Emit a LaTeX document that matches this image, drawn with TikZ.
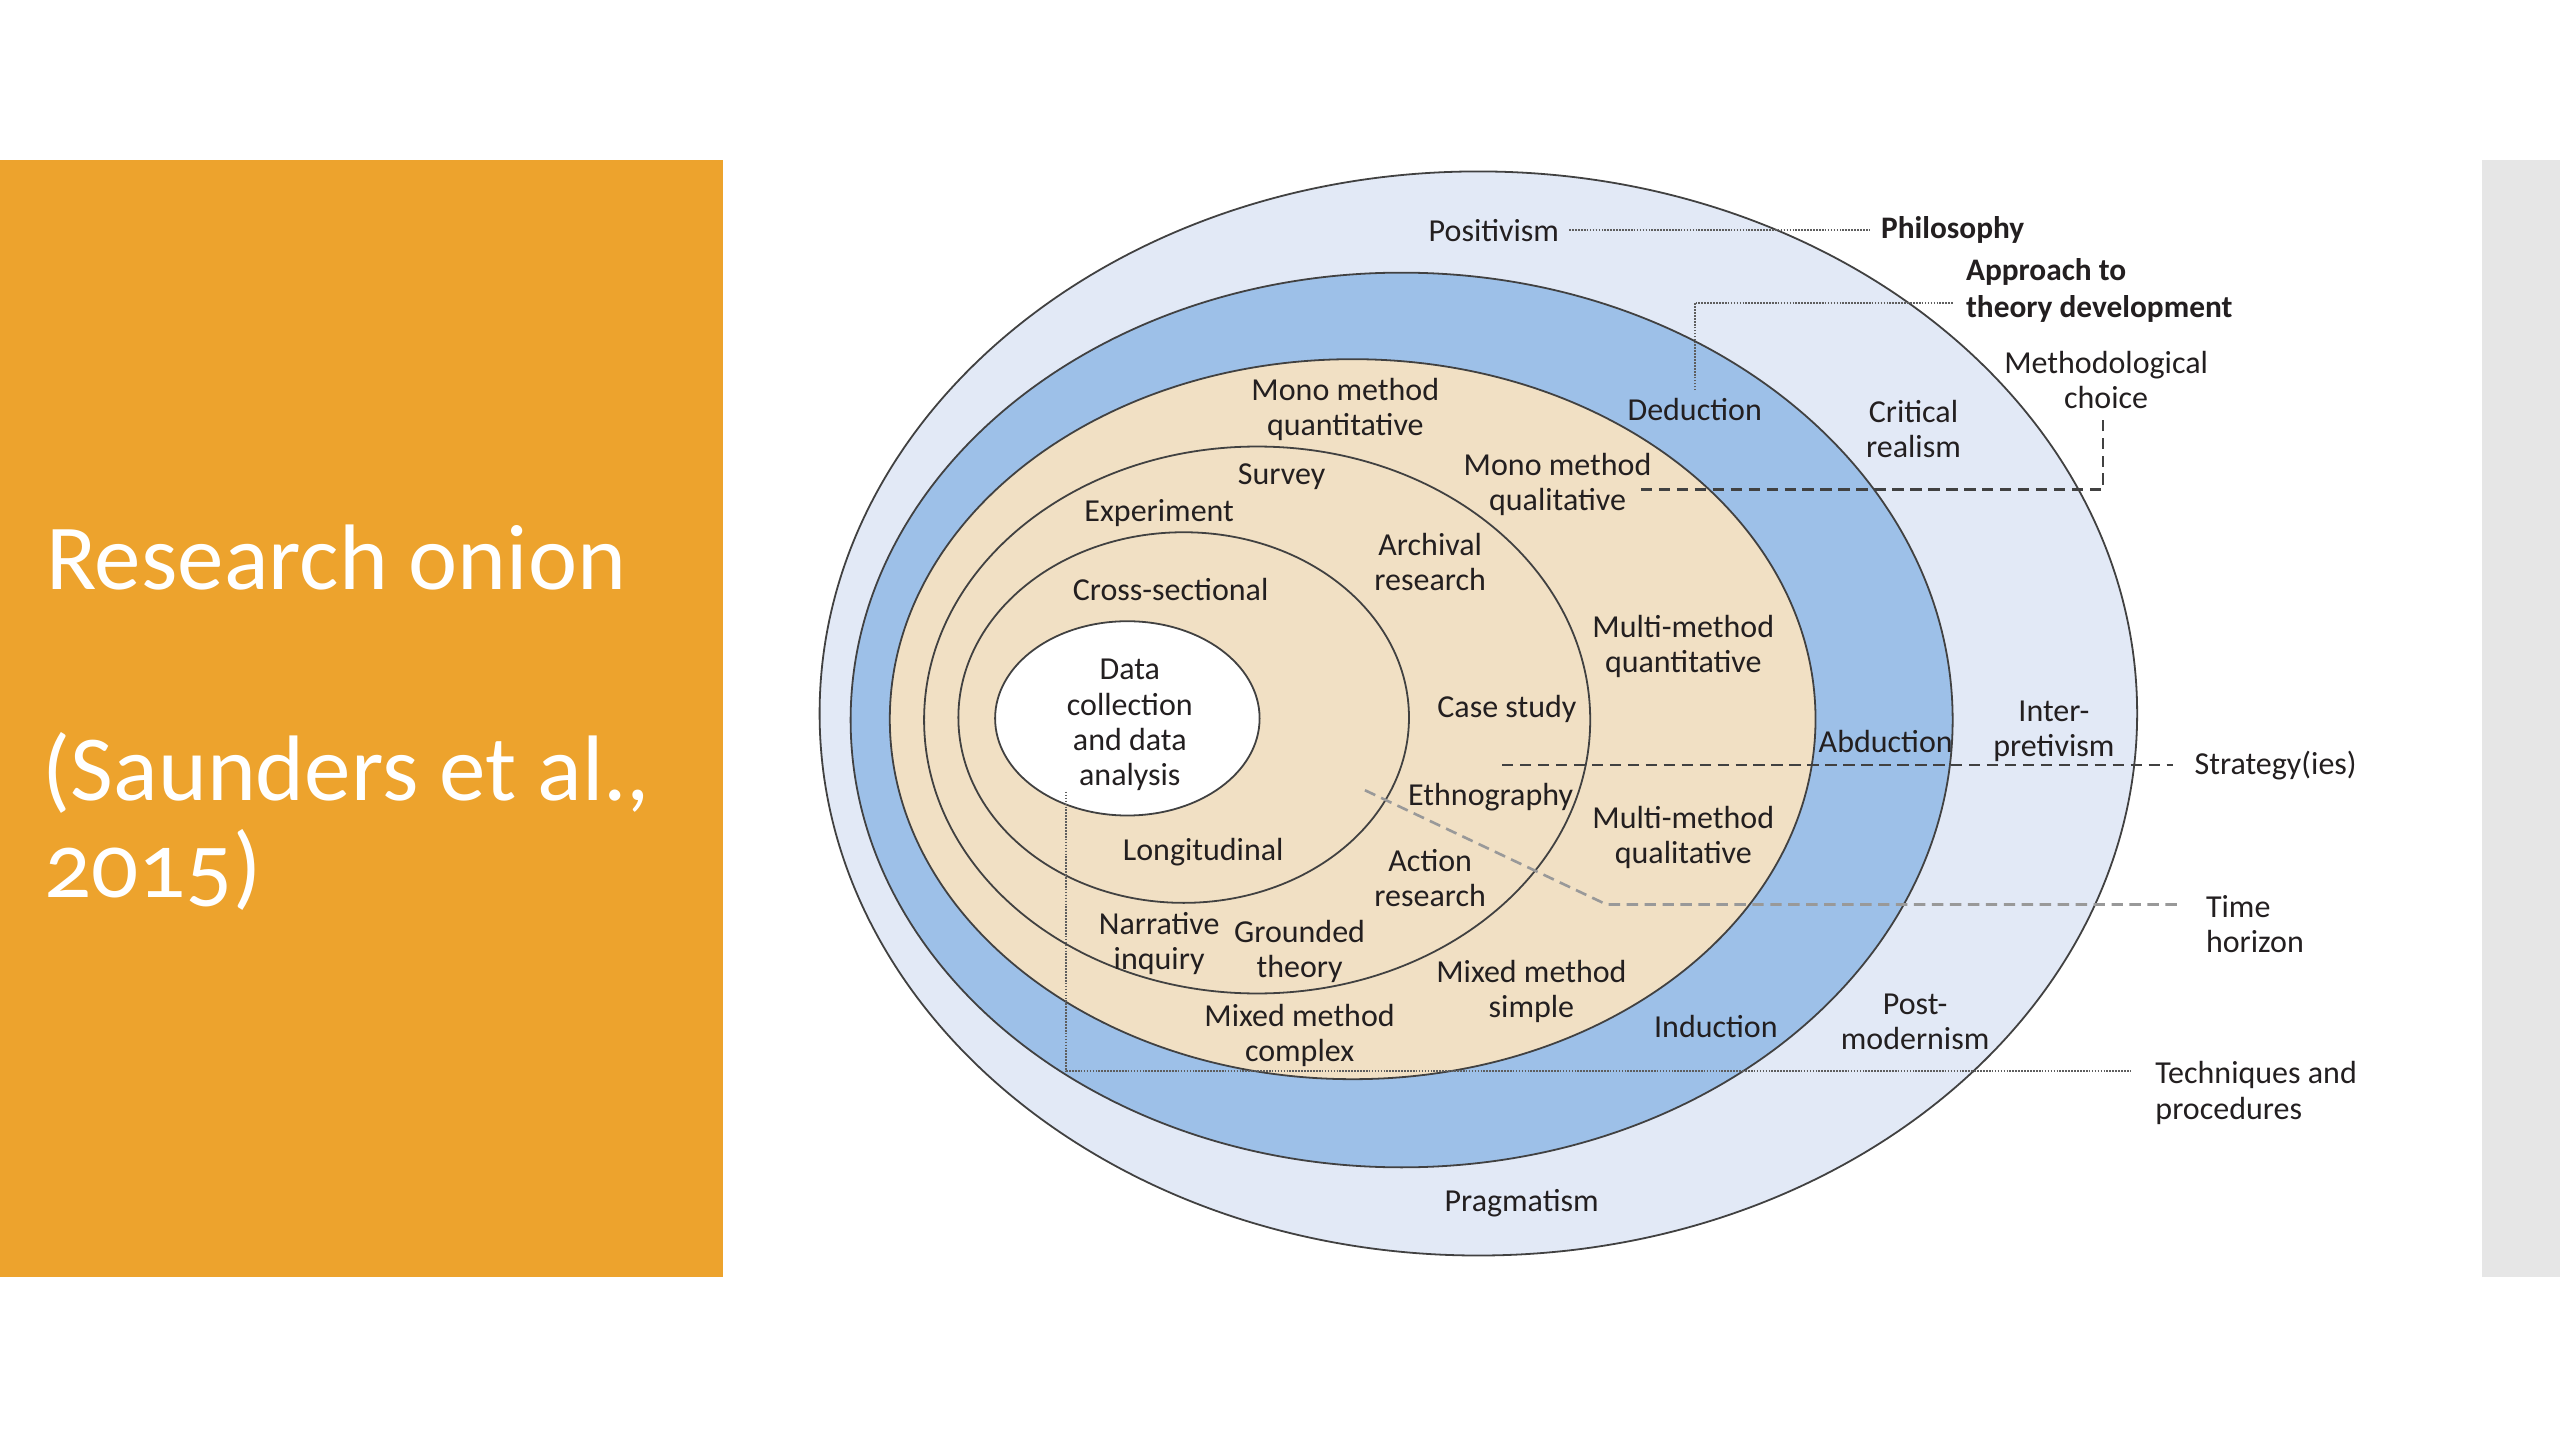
\documentclass[tikz,border=0pt]{standalone}
\usepackage{fontspec}
\setmainfont{Carlito}
\newfontfamily\titlefont[Numbers=OldStyle]{Carlito}
\definecolor{orangebg}{RGB}{237,163,45}
\definecolor{graystrip}{RGB}{230,230,230}
\definecolor{ringphil}{RGB}{226,233,246}
\definecolor{ringappr}{RGB}{157,192,232}
\definecolor{ringmeth}{RGB}{241,224,196}
\definecolor{inktext}{RGB}{35,31,32}
\definecolor{inkline}{RGB}{65,65,65}
\begin{document}
\begin{tikzpicture}[x=1pt,y=-1pt,
  lab/.style={font=\fontsize{19.6}{21.5}\selectfont, text=inktext, align=center, inner sep=0pt},
  boldlab/.style={font=\fontsize{19.2}{23}\selectfont\bfseries, text=inktext, align=left, inner sep=0pt},
  sidelab/.style={font=\fontsize{19.6}{22}\selectfont, text=inktext, align=left, inner sep=0pt},
  ring/.style={draw=inkline, line width=1.1pt},
  dotline/.style={draw=inkline!85, line width=1.1pt, dash pattern=on 1pt off 0.8pt},
  dashline/.style={draw=inkline, line width=1.6pt, dash pattern=on 7pt off 4pt},
  lightdash/.style={draw=black!40, line width=1.6pt, dash pattern=on 7pt off 4pt},
  titletext/.style={font=\titlefont\fontsize{57}{62}\selectfont, text=white, inner sep=0pt, anchor=base west}
]
\useasboundingbox (0,0) rectangle (1568,882);
\fill[white] (0,0) rectangle (1568,882);
% side panels
\fill[orangebg] (0,98) rectangle (443,782);
\fill[graystrip] (1520,98) rectangle (1568,782);
\node[titletext] (t1) at (28,361) {Research onion};
\node[titletext] (t2) at (26,490) {(Saunders et al.,};
\node[titletext] (t3) at (27,550) {2015)};
% onion layers
\fill[ringphil] (905.5,437) ellipse [x radius=403.5pt, y radius=332pt];
\draw[ring] (905.5,437) ellipse [x radius=403.5pt, y radius=332pt];
\fill[ringappr] (858.5,441) ellipse [x radius=337.5pt, y radius=274pt];
\draw[ring] (858.5,441) ellipse [x radius=337.5pt, y radius=274pt];
\fill[ringmeth] (828.5,440.5) ellipse [x radius=283.5pt, y radius=220.5pt];
\draw[ring] (828.5,440.5) ellipse [x radius=283.5pt, y radius=220.5pt];
\draw[ring] (770,441) ellipse [x radius=204pt, y radius=167.5pt];
\draw[ring] (725,439.5) ellipse [x radius=138pt, y radius=113.5pt];
\fill[white] (690.5,440) ellipse [x radius=81pt, y radius=59.5pt];
\draw[ring] (690.5,440) ellipse [x radius=81pt, y radius=59.5pt];
% labels
\node[lab] (positivism) at (915,141) {Positivism};
\node[boldlab, anchor=west] (philosophy) at (1152,141) {Philosophy};
\node[boldlab, anchor=north west] (approach) at (1204,158) {Approach to\\theory development};
\node[lab] (methchoice) at (1290,233) {Methodological\\choice};
\node[lab] (critical) at (1172,263) {Critical\\realism};
\node[lab] (deduction) at (1038,251) {Deduction};
\node[lab] (monoquant) at (824,251) {Mono method\\quantitative};
\node[lab] (monoqual) at (954,297) {Mono method\\qualitative};
\node[lab] (survey) at (785,292) {Survey};
\node[lab] (experiment) at (710,314) {Experiment};
\node[lab] (archival) at (876,344) {Archival\\research};
\node[lab] (cross) at (717,361) {Cross-sectional};
\node[lab] (multiquant) at (1031,396) {Multi-method\\quantitative};
\node[lab] (data) at (692,444) {Data\\collection\\and data\\analysis};
\node[lab] (casestudy) at (923,434) {Case study};
\node[lab] (abduction) at (1155,454) {Abduction};
\node[lab] (inter) at (1258,448) {Inter-\\pretivism};
\node[sidelab, anchor=west] (strategy) at (1344,469) {Strategy(ies)};
\node[lab] (ethno) at (913,488) {Ethnography};
\node[lab] (multiqual) at (1031,513) {Multi-method\\qualitative};
\node[lab] (longi) at (737,522) {Longitudinal};
\node[lab] (action) at (876,538) {Action\\research};
\node[sidelab, anchor=north west] (timeh) at (1351,548) {Time\\horizon};
\node[lab] (narrative) at (710,578) {Narrative\\inquiry};
\node[lab] (grounded) at (796,583) {Grounded\\theory};
\node[lab] (mixsimple) at (938,607) {Mixed method\\simple};
\node[lab] (post) at (1173,626) {Post-\\modernism};
\node[lab] (induction) at (1051,629) {Induction};
\node[lab] (mixcomplex) at (796,634) {Mixed method\\complex};
\node[sidelab, anchor=north west] (tech) at (1320,650) {Techniques and\\procedures};
\node[lab] (pragmatism) at (932,737) {Pragmatism};
% connectors
\coordinate (apA) at (1038,239);
\coordinate (apB) at (1038,185.5);
\coordinate (apC) at (1196,185.5);
\coordinate (mcA) at (1005,300);
\coordinate (mcB) at (1288,300);
\coordinate (mcC) at (1288,256);
\coordinate (stA) at (920,468.5);
\coordinate (stB) at (1331,468.5);
\coordinate (thA) at (836,484);
\coordinate (thB) at (984,554);
\coordinate (thC) at (1337,554);
\coordinate (tpA) at (653,485);
\coordinate (tpB) at (653,656);
\coordinate (tpC) at (1305,656);
\draw[dotline] ([xshift=6pt]positivism.east) -- ([xshift=-7pt]philosophy.west);
\draw[dotline] (apA) -- (apB) -- (apC);
\draw[dashline] (mcA) -- (mcB) -- (mcC);
\draw[dashline] (stA) -- (stB);
\draw[lightdash] (thA) -- (thB) -- (thC);
\draw[dotline] (tpA) -- (tpB) -- (tpC);
\end{tikzpicture}
\end{document}
